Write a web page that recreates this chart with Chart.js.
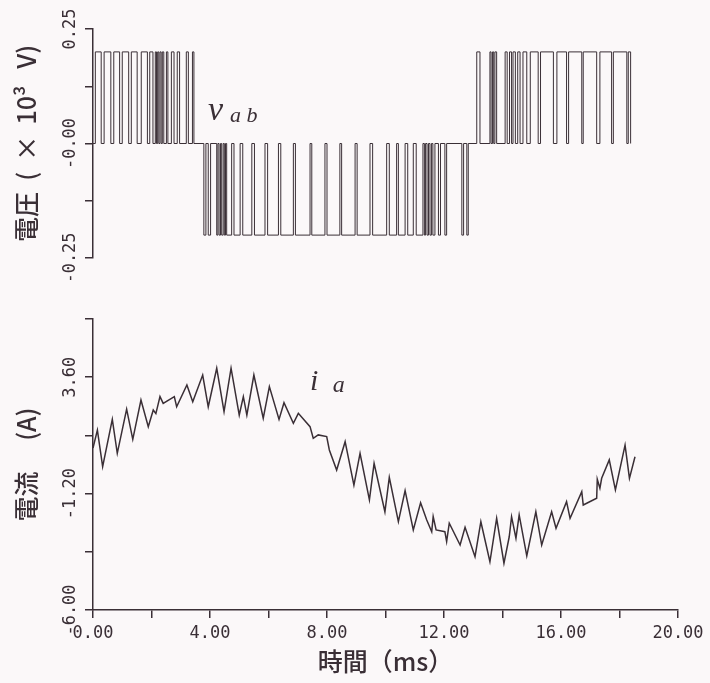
<!DOCTYPE html>
<html><head><meta charset="utf-8">
<script src="https://cdn.jsdelivr.net/npm/chart.js@4"></script>
<style>
html,body{margin:0;padding:0;background:#fbf8f9;}
#wrap{position:relative;width:710px;height:683px;overflow:hidden;}
#c1{position:absolute;left:0;top:0;}
#c2{position:absolute;left:0;top:290px;}
</style></head><body>
<div id="wrap">
<canvas id="c1" width="710" height="280"></canvas>
<canvas id="c2" width="710" height="393"></canvas>
</div>
<script>
// ---- data (time in ms) ----
// line voltage v_ab switching instants (ms) and the level (x10^3 V) that starts there
const vTime = [
  0.00, 0.08, 0.28, 0.38, 0.61, 0.71, 0.91, 1.00, 1.22, 1.31, 1.51, 1.65, 1.86, 1.94, 2.05, 2.13,
  2.17, 2.21, 2.25, 2.29, 2.33, 2.37, 2.42, 2.51, 2.56, 2.68, 2.77, 2.88, 2.96, 3.19, 3.26, 3.40, 3.45,
  3.79, 3.86, 3.94, 4.02, 4.23, 4.27, 4.31, 4.36, 4.40, 4.45, 4.49, 4.53, 4.57, 4.74, 4.82, 5.03,
  5.12, 5.43, 5.52, 5.88, 5.97, 6.34, 6.42, 6.85, 6.92, 7.42, 7.48, 7.93, 8.00, 8.44, 8.50, 8.96,
  9.03, 9.47, 9.56, 10.04, 10.13, 10.38, 10.44, 10.67, 10.76, 10.95, 11.05, 11.28, 11.33, 11.37,
  11.42, 11.47, 11.52, 11.57, 11.62, 11.69, 11.81, 11.88, 12.03, 12.09, 12.61, 12.67, 12.78, 12.83,
  13.12, 13.23, 13.57, 13.61, 13.66, 13.70, 13.74, 13.80, 14.09, 14.16, 14.24, 14.31, 14.36, 14.44,
  14.52, 14.60, 14.70, 14.83, 14.95, 15.22, 15.30, 15.74, 15.86, 16.19, 16.26, 16.71, 16.76, 17.22,
  17.33, 17.73, 17.79, 18.25, 18.30, 18.38
];
const vLevel = [
  0, 0.2, 0, 0.2, 0, 0.2, 0, 0.2, 0, 0.2, 0, 0.2, 0, 0.2, 0, 0.2,
  0, 0.2, 0, 0.2, 0, 0.2, 0, 0.2, 0, 0.2, 0, 0.2, 0, 0.2, 0, 0.2, 0,
  -0.2, 0, -0.2, 0, -0.2, 0, -0.2, 0, -0.2, 0, -0.2, 0, -0.2, 0, -0.2, 0,
  -0.2, 0, -0.2, 0, -0.2, 0, -0.2, 0, -0.2, 0, -0.2, 0, -0.2, 0, -0.2, 0,
  -0.2, 0, -0.2, 0, -0.2, 0, -0.2, 0, -0.2, 0, -0.2, 0, -0.2, 0,
  -0.2, 0, -0.2, 0, -0.2, 0, -0.2, 0, -0.2, 0, -0.2, 0, -0.2, 0,
  0.2, 0, 0.2, 0, 0.2, 0, 0.2, 0, 0.2, 0, 0.2, 0, 0.2, 0,
  0.2, 0, 0.2, 0, 0.2, 0, 0.2, 0, 0.2, 0, 0.2, 0, 0.2, 0,
  0.2, 0, 0.2, 0, 0.2, 0
];
// phase current i_a (A)
const iTime = [
  0.00, 0.15, 0.33, 0.66, 0.83, 1.15, 1.36, 1.64, 1.89, 2.06, 2.15, 2.29, 2.40, 2.78, 2.86, 3.21,
  3.41, 3.75, 3.94, 4.23, 4.48, 4.72, 5.00, 5.14, 5.26, 5.50, 5.82, 6.03, 6.36, 6.53, 6.85, 7.02,
  7.42, 7.53, 7.70, 7.99, 8.08, 8.33, 8.62, 8.92, 9.13, 9.45, 9.61, 9.98, 10.13, 10.44, 10.67, 10.95,
  11.20, 11.41, 11.58, 11.63, 11.73, 12.03, 12.09, 12.18, 12.55, 12.72, 13.06, 13.26, 13.57, 13.80,
  14.05, 14.23, 14.31, 14.46, 14.57, 14.83, 15.14, 15.34, 15.68, 15.83, 16.19, 16.31, 16.71, 16.76,
  17.22, 17.24, 17.33, 17.39, 17.65, 17.86, 18.19, 18.34, 18.53
];
const iValue = [
  0.68, 1.42, -0.09, 1.86, 0.46, 2.28, 1.04, 2.66, 1.56, 2.25, 2.10, 2.80, 2.52, 2.80, 2.38, 3.28,
  2.59, 3.69, 2.38, 3.97, 2.18, 3.97, 2.04, 2.80, 2.04, 3.69, 1.91, 3.21, 1.86, 2.55, 1.70, 2.11,
  1.56, 1.08, 1.22, 1.15, 0.60, -0.23, 0.94, -0.85, 0.46, -1.46, 0.05, -1.95, -0.53, -2.36, -1.08, -2.70,
  -1.58, -2.29, -2.77, -2.15, -2.70, -2.77, -3.18, -2.42, -3.32, -2.59, -3.80, -2.36, -4.01, -2.22,
  -4.07, -2.98, -2.15, -3.04, -2.08, -3.77, -1.95, -3.32, -1.95, -2.63, -1.53, -2.22, -1.12, -1.67,
  -1.39, -0.61, -0.98, -0.57, 0.19, -1.05, 0.80, -0.57, 0.32
];
// tick labels
const xTickLabels = ['0.00', '', '4.00', '', '8.00', '', '12.00', '', '16.00', '', '20.00'];
const vTickLabels = ['-0.25', '', '-0.00', '', '0.25'];
const iTickLabels = ['-6.00', '', '-1.20', '', '3.60', ''];
const xTitle = '時間（ms）';
const vTitle = '電圧  (  ×  10³   V)';
const iTitle = '電流　 (A)';

// ---- style ----
const ink = '#3a2f36';
const tickFont = {family: 'DejaVu Sans Mono', size: 17};
const titleFont = {family: 'Noto Sans CJK JP', size: 25, weight: '500'};

const annot = {
  id: 'annot',
  afterDatasetsDraw(chart, args, opts) {
    const ctx = chart.ctx, xs = chart.scales.x, ys = chart.scales.y;
    ctx.save();
    ctx.fillStyle = ink;
    ctx.textBaseline = 'alphabetic';
    for (const it of opts.items) {
      ctx.font = it.font;
      ctx.fillText(it.text, xs.getPixelForValue(it.t), ys.getPixelForValue(it.v));
    }
    ctx.restore();
  }
};

function yAxis(min, max, step, labels, title) {
  return {
    type: 'linear', min, max,
    afterFit: s => { s.width = 93; },
    ticks: {stepSize: step, autoSkip: false, font: tickFont, color: ink,
      minRotation: 90, maxRotation: 90, crossAlign: 'center', padding: -11,
      callback: (v, i) => labels[i]},
    grid: {drawOnChartArea: false, drawTicks: true, tickLength: 8, color: ink, lineWidth: 1.5},
    border: {display: true, color: ink, width: 1.5},
    title: {display: true, text: title, font: titleFont, color: ink, padding: {top: 11, bottom: 0}}
  };
}

const common = {
  responsive: false, animation: false, events: [],
  plugins: {legend: {display: false}, tooltip: {enabled: false}}
};

new Chart(document.getElementById('c1'), {
  type: 'line',
  data: {datasets: [{
    data: vTime.map((t, i) => ({x: t, y: vLevel[i]})),
    stepped: true, borderColor: ink, borderWidth: 1, pointRadius: 0, fill: false
  }]},
  options: Object.assign({}, common, {
    layout: {padding: {left: 0, top: 29, right: 32, bottom: 22}},
    plugins: {legend: {display: false}, tooltip: {enabled: false},
      annot: {items: [
        {text: 'v', t: 3.93, v: 0.051, font: 'italic 34px "Liberation Serif"'},
        {text: 'a b', t: 4.68, v: 0.047, font: 'italic 22px "Liberation Serif"'}
      ]}},
    scales: {
      x: {type: 'linear', min: 0, max: 20, display: false},
      y: yAxis(-0.25, 0.25, 0.125, vTickLabels, vTitle)
    }
  }),
  plugins: [annot]
});

new Chart(document.getElementById('c2'), {
  type: 'line',
  data: {datasets: [{
    data: iTime.map((t, i) => ({x: t, y: iValue[i]})),
    borderColor: ink, borderWidth: 1.5, pointRadius: 0, fill: false, tension: 0
  }]},
  options: Object.assign({}, common, {
    layout: {padding: {left: 0, top: 29, right: 32, bottom: 0}},
    plugins: {legend: {display: false}, tooltip: {enabled: false},
      annot: {items: [
        {text: 'i', t: 7.42, v: 3.07, font: 'italic 30px "Liberation Serif"'},
        {text: 'a', t: 8.2, v: 2.99, font: 'italic 24px "Liberation Serif"'}
      ]}},
    scales: {
      x: {type: 'linear', min: 0, max: 20,
        afterFit: s => { s.height = 73; },
        ticks: {stepSize: 2, autoSkip: false, font: tickFont, color: ink, maxRotation: 0, padding: 5,
          callback: (v, i) => xTickLabels[i]},
        grid: {drawOnChartArea: false, drawTicks: true, tickLength: 8, color: ink, lineWidth: 1.5},
        border: {display: true, color: ink, width: 1.5},
        title: {display: true, text: xTitle, font: titleFont, color: ink, padding: {top: 0, bottom: 7}}
      },
      y: yAxis(-6, 6, 2.4, iTickLabels, iTitle)
    }
  }),
  plugins: [annot]
});
</script>
</body></html>
